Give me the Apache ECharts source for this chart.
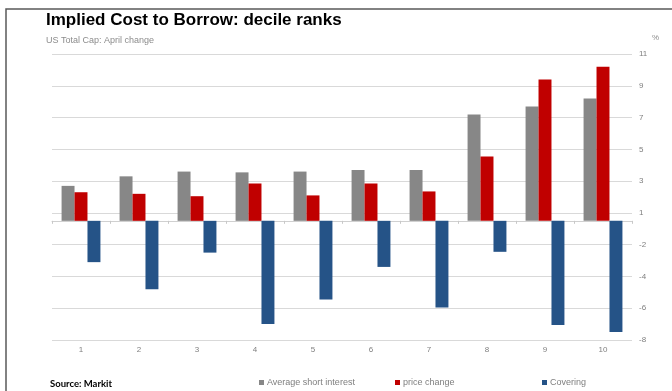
<!DOCTYPE html>
<html>
<head>
<meta charset="utf-8">
<script src="https://cdn.jsdelivr.net/npm/echarts@6/dist/echarts.min.js"></script>
<style>
html,body{margin:0;padding:0;background:#fff;}
#chart{width:672px;height:391px;}
</style>
</head>
<body>
<div id="chart"></div>
<script>
// ---- data (values as read against the axis labels) ----
var categories = ['1','2','3','4','5','6','7','8','9','10'];
var avgShortInterest = [2.7, 3.3, 3.6, 3.55, 3.6, 3.7, 3.7, 7.2, 7.7, 8.2];
var priceChange = [2.3, 2.2, 2.05, 2.85, 2.1, 2.85, 2.35, 4.55, 9.4, 10.2];
var covering = [-3.1, -4.8, -2.5, -7.0, -5.45, -3.4, -5.95, -2.45, -7.05, -7.5];
var yTickLabels = ['-8','-6','-4','-2','1','3','5','7','9','11'];
var seriesNames = ['Average short interest','price change','Covering'];

// The source axis labels positive ticks one unit away from the bar base
// (labels skip 0): shift values toward the base by half a unit.
var Y_MIN = -7.5, Y_MAX = 10.5, Y_STEP = 2;
function toAxis(v){ return v > 0 ? v - 0.5 : v + 0.5; }

var chart = echarts.init(document.getElementById('chart'), null, {renderer:'canvas'});
var labelColor = '#7f7f7f';
var font = 'Liberation Sans, Arial, sans-serif';

var option = {
  animation: false,
  backgroundColor: '#fff',
  textStyle: {fontFamily: font},
  title: [
    {text: 'Implied Cost to Borrow: decile ranks', left: 46, top: 12, padding: 0,
     textStyle: {fontSize: 17, fontWeight: 'bold', color: '#000', fontFamily: font}},
    {text: 'US Total Cap: April change', left: 46, top: 36, padding: 0,
     textStyle: {fontSize: 9, fontWeight: 'normal', color: '#8c8c8c', fontFamily: font}},
    {text: '%', left: 652, top: 34, padding: 0,
     textStyle: {fontSize: 8, fontWeight: 'normal', color: '#8c8c8c', fontFamily: font}},
    {text: 'Source: Markit', left: 50, top: 379, padding: 0,
     textStyle: {fontSize: 9.5, fontWeight: 'bold', color: '#000', fontFamily: 'Lato, Liberation Sans, sans-serif'}}
  ],
  legend: [
    {data: [seriesNames[0]], left: 259, top: 378, itemWidth: 5, itemHeight: 5, itemGap: 3, padding: 0, icon: 'rect',
     textStyle: {fontSize: 9, color: labelColor, fontFamily: font, padding: [0,0,0,-2]}},
    {data: [seriesNames[1]], left: 395, top: 378, itemWidth: 5, itemHeight: 5, itemGap: 3, padding: 0, icon: 'rect',
     textStyle: {fontSize: 9, color: labelColor, fontFamily: font, padding: [0,0,0,-2]}},
    {data: [seriesNames[2]], left: 542, top: 378, itemWidth: 5, itemHeight: 5, itemGap: 3, padding: 0, icon: 'rect',
     textStyle: {fontSize: 9, color: labelColor, fontFamily: font, padding: [0,0,0,-2]}}
  ],
  grid: {left: 52, right: 40, top: 54, bottom: 51, containLabel: false},
  xAxis: [
    {type: 'category', data: categories, position: 'bottom',
     axisLine: {show: false, onZero: false}, axisTick: {show: false},
     axisLabel: {fontSize: 8, color: labelColor, margin: 6, fontFamily: font}},
    {type: 'category', data: categories, position: 'bottom',
     axisLine: {show: true, onZero: true, lineStyle: {color: '#d0d0d0', width: 1}},
     axisTick: {show: true, length: 3, lineStyle: {color: '#c8c8c8'}},
     axisLabel: {show: false}}
  ],
  yAxis: {
    type: 'value', position: 'right', min: Y_MIN, max: Y_MAX, interval: Y_STEP,
    axisLine: {show: false}, axisTick: {show: false},
    splitLine: {show: true, lineStyle: {color: '#d9d9d9', width: 1}},
    axisLabel: {fontSize: 8, color: labelColor, margin: 7, fontFamily: font,
      formatter: function(v){ var i = Math.round((v - Y_MIN)/Y_STEP); return yTickLabels[i] || ''; }}
  },
  series: [
    {name: seriesNames[0], type: 'bar', xAxisIndex: 0, data: avgShortInterest.map(toAxis),
     itemStyle: {color: '#878787'}, barGap: '0%', barCategoryGap: '33%'},
    {name: seriesNames[1], type: 'bar', xAxisIndex: 0, data: priceChange.map(toAxis),
     itemStyle: {color: '#c00000'}, barGap: '0%', barCategoryGap: '33%'},
    {name: seriesNames[2], type: 'bar', xAxisIndex: 0, data: covering.map(toAxis),
     itemStyle: {color: '#255387'}, barGap: '0%', barCategoryGap: '33%'}
  ],
  graphic: [
    {type: 'polyline', silent: true, shape: {points: [[6, 391], [6, 9], [672, 9]]},
     style: {stroke: '#595959', lineWidth: 1.5, fill: null}}
  ]
};
chart.setOption(option);
</script>
</body>
</html>
